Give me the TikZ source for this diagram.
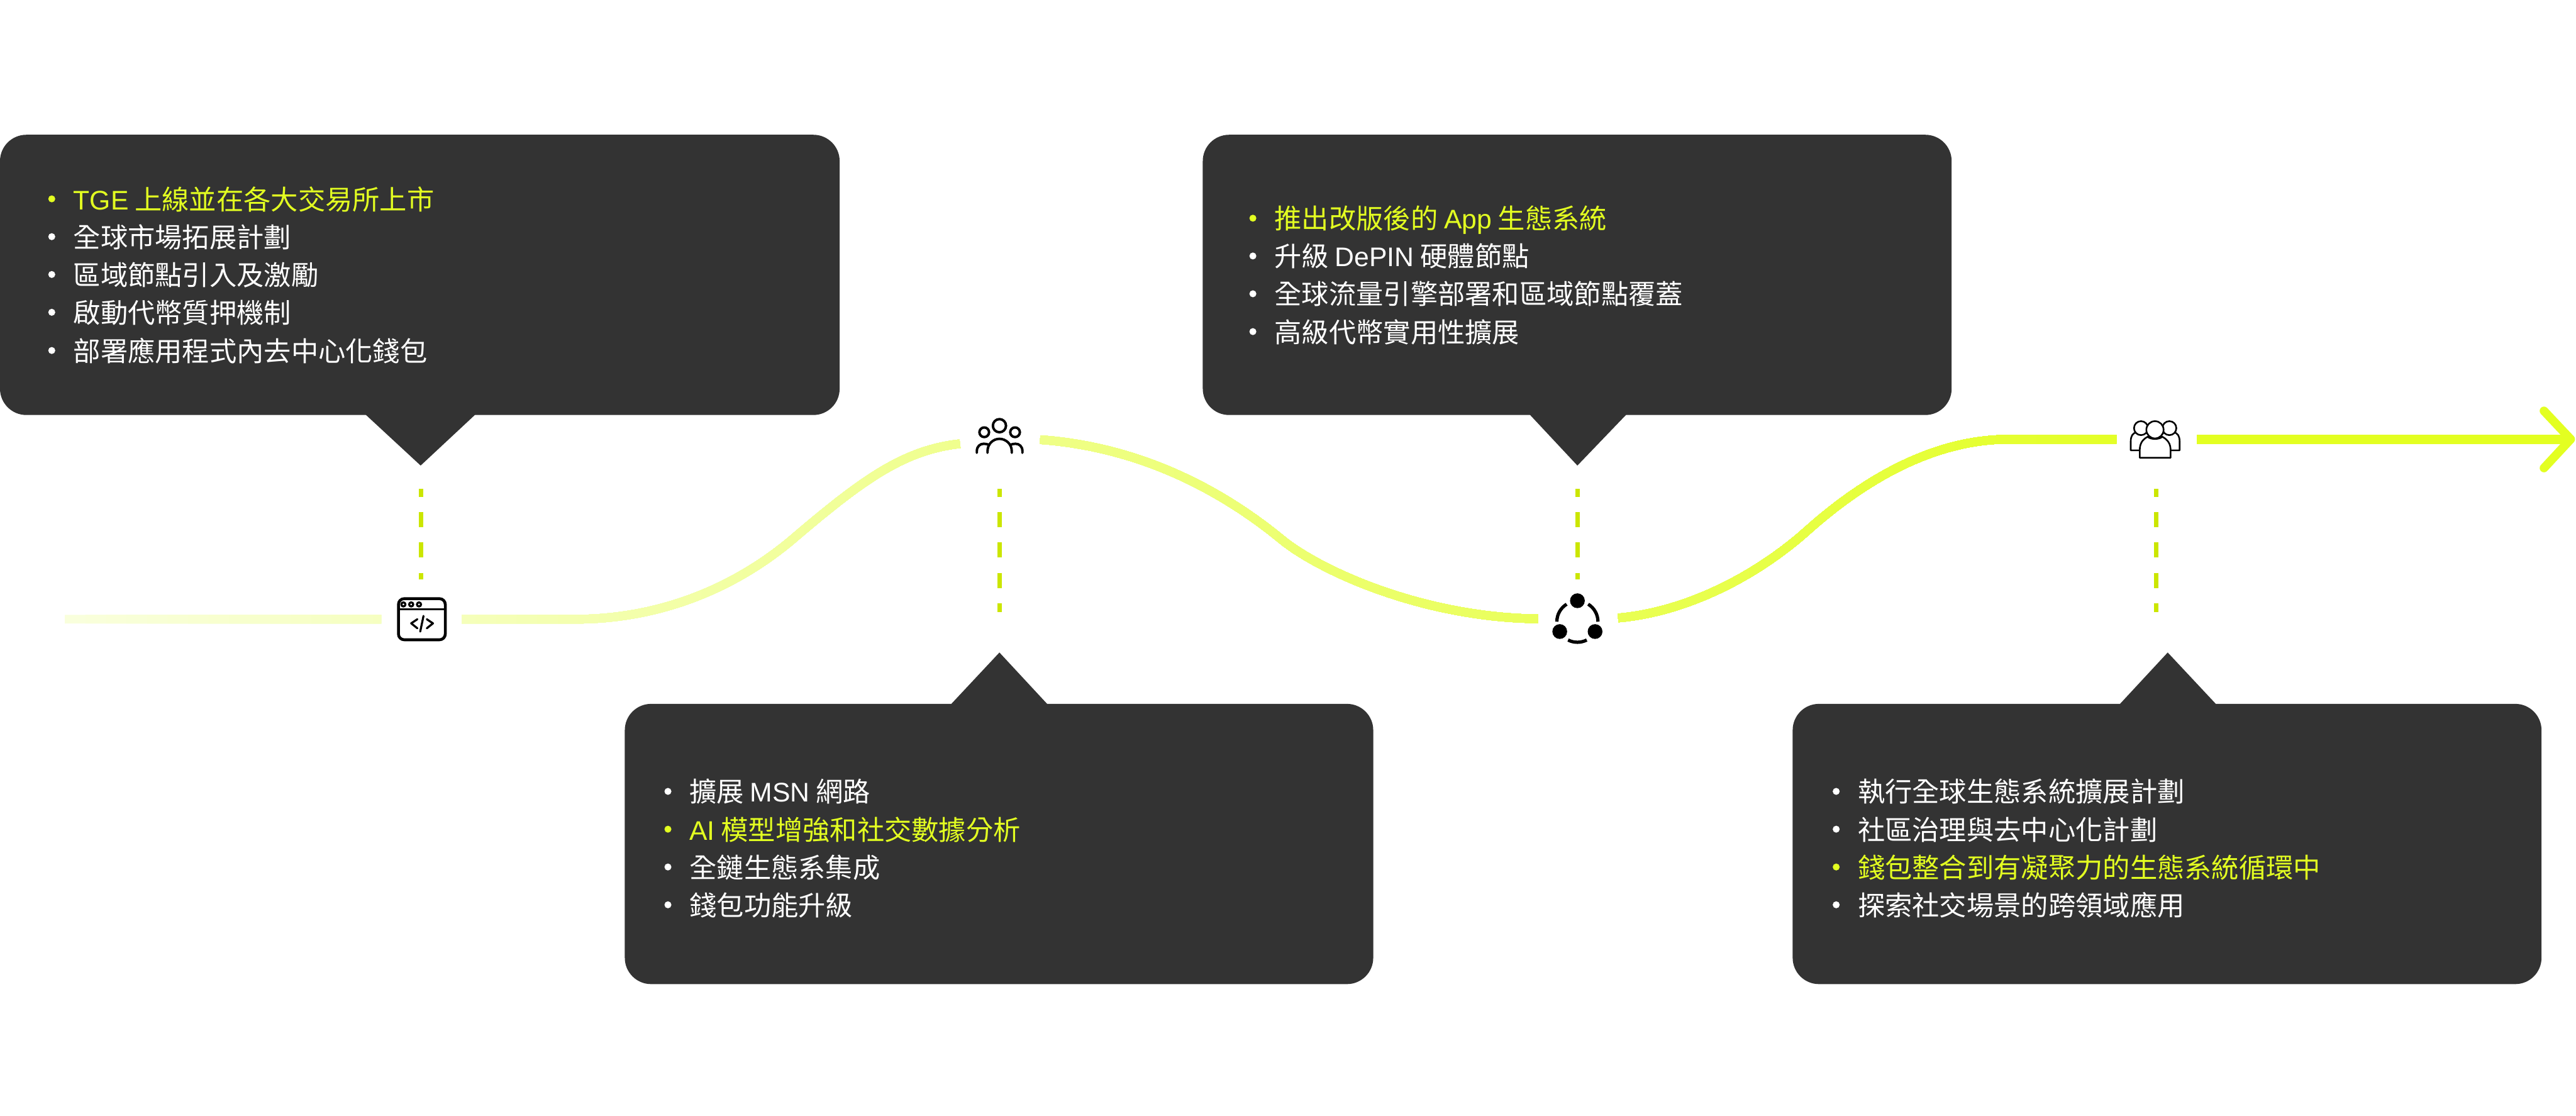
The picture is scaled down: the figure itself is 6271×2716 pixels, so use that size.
\documentclass[tikz,border=0pt]{standalone}
\usepackage{fontspec}
\setmainfont{Liberation Sans}
\newfontfamily\cjkf{Noto Sans CJK TC}
\definecolor{boxc}{HTML}{333333}
\definecolor{hi}{HTML}{E3FF21}
\definecolor{pale}{HTML}{F9FFDC}
\definecolor{dashc}{HTML}{CBE600}
\newcommand{\lattxt}[1]{{\fontspec{Liberation Sans}\fontsize{18.6}{22}\selectfont #1}}
\newcommand{\tlline}[5]{%
  \node[bul,fill=#4] (b#1) at (#2-52,#3) {};
  \node[linetxt,text=#4] (t#1) at (#2,#3+26) {#5};}
\tikzset{
  bul/.style={circle,inner sep=0,minimum size=0.17cm,draw=none},
  linetxt/.style={anchor=base west,inner sep=0,font=\fontsize{18.85}{22}\selectfont\cjkf},
  road/.style={line width=0.21cm,line cap=butt},
  dsh/.style={draw=dashc,line width=0.11cm,dash pattern=on 0.37cm off 0.37cm,dash phase=0.18cm},
  ico/.style={line width=0.07cm,draw=black,line cap=round,line join=round},
  ico4/.style={line width=0.04cm,draw=black,line join=round,fill=white},
}
\def\roadpath{
  (r1a) -- (r1b)
  (r1c) -- (1399,1507) .. controls (1620,1507) and (1800,1422) .. (1930,1312)
        .. controls (2100,1167) and (2200,1095) .. (r2a)
  (r2b) .. controls (2700,1082) and (2910,1141) .. (3120,1313)
        .. controls (3210,1387) and (3460,1503) .. (r3a)
  (r3b) .. controls (4100,1490) and (4270,1407) .. (4400,1291)
        .. controls (4530,1175) and (4700,1069) .. (4891,1069) -- (r4a)
  (r4b) -- (tip)
}
\begin{document}
\begin{tikzpicture}[x=0.01cm,y=-0.01cm]
\useasboundingbox (0,0) rectangle (6271,2716);
\fill[white] (0,0) rectangle (6271,2716);
% road coordinates
\coordinate (r1a) at (158,1507);
\coordinate (r1b) at (928,1507);
\coordinate (r1c) at (1124,1507);
\coordinate (r2a) at (2337,1080);
\coordinate (r2b) at (2532,1070);
\coordinate (r3a) at (3744,1506);
\coordinate (r3b) at (3939,1504);
\coordinate (r4a) at (5152,1069);
\coordinate (r4b) at (5348,1069);
\coordinate (tip) at (6258,1069);
\coordinate (armt) at (6193,1000);
\coordinate (armb) at (6193,1139);
% gradient road
\foreach \i in {0,...,103}{
  \pgfmathsetmacro{\xs}{158+50*\i}
  \pgfmathsetmacro{\pct}{min(100,\i/103*100)}
  \begin{scope}
    \clip (\xs,0) rectangle (6271,2716);
    \draw[road,draw=hi!\pct!pale] \roadpath;
  \end{scope}
}
\draw[road,draw=hi,line cap=round,line join=round] (armt) -- (tip) -- (armb);
% dashed leaders
\coordinate (d1a) at (1025.4,1190); \coordinate (d1b) at (1025.4,1410);
\coordinate (d2a) at (2433,1190); \coordinate (d2b) at (2433,1489);
\coordinate (d3a) at (3841,1190); \coordinate (d3b) at (3841,1410);
\coordinate (d4a) at (5249,1190); \coordinate (d4b) at (5249,1489);
\draw[dsh] (d1a) -- (d1b);
\draw[dsh] (d2a) -- (d2b);
\draw[dsh] (d3a) -- (d3b);
\draw[dsh] (d4a) -- (d4b);
% panels
\fill[boxc,rounded corners=0.64cm] (0,328) rectangle (2044,1010);
\fill[boxc] (890,1009) -- (1024,1133) -- (1157,1009) -- cycle;
\fill[boxc,rounded corners=0.64cm] (1521,1713) rectangle (3343,2395);
\fill[boxc] (2315,1714) -- (2433,1588) -- (2550,1714) -- cycle;
\fill[boxc,rounded corners=0.64cm] (2928,328) rectangle (4751,1010);
\fill[boxc] (3724,1009) -- (3840,1133) -- (3959,1009) -- cycle;
\fill[boxc,rounded corners=0.64cm] (4364,1713) rectangle (6187,2395);
\fill[boxc] (5160,1714) -- (5277,1588) -- (5395,1714) -- cycle;
% texts panel 1
\tlline{a1}{178}{484}{hi}{\lattxt{TGE} 上線並在各大交易所上市}
\tlline{a2}{178}{576}{white}{全球市場拓展計劃}
\tlline{a3}{178}{668}{white}{區域節點引入及激勵}
\tlline{a4}{178}{760}{white}{啟動代幣質押機制}
\tlline{a5}{178}{853}{white}{部署應用程式內去中心化錢包}
% panel 2
\tlline{b1}{1678}{1926}{white}{擴展 \lattxt{MSN} 網路}
\tlline{b2}{1678}{2018}{hi}{\lattxt{AI} 模型增強和社交數據分析}
\tlline{b3}{1678}{2110}{white}{全鏈生態系集成}
\tlline{b4}{1678}{2202}{white}{錢包功能升級}
% panel 3
\tlline{c1}{3102}{531}{hi}{推出改版後的 \lattxt{App} 生態系統}
\tlline{c2}{3102}{623}{white}{升級 \lattxt{DePIN} 硬體節點}
\tlline{c3}{3102}{715}{white}{全球流量引擎部署和區域節點覆蓋}
\tlline{c4}{3102}{807}{white}{高級代幣實用性擴展}
% panel 4
\tlline{e1}{4522}{1926}{white}{執行全球生態系統擴展計劃}
\tlline{e2}{4522}{2018}{white}{社區治理與去中心化計劃}
\tlline{e3}{4522}{2110}{hi}{錢包整合到有凝聚力的生態系統循環中}
\tlline{e4}{4522}{2202}{white}{探索社交場景的跨領域應用}
% icon 1
\draw[ico,rounded corners=0.14cm] (970,1457) rectangle (1084,1557);
\draw[ico,line width=0.05cm] (970,1483) -- (1084,1483);
\foreach \x in {982,1001,1020} \draw[ico,line width=0.05cm] (\x,1471) circle (5);
\draw[ico,line width=0.05cm] (1016,1507) -- (1001,1517) -- (1016,1529);
\draw[ico,line width=0.05cm] (1039,1507) -- (1054,1517) -- (1039,1529);
\draw[ico,line width=0.05cm] (1031,1499) -- (1023,1537);
% icon 2
\draw[ico,line width=0.06cm] (2433,1036) circle (16);
\draw[ico,line width=0.06cm] (2396,1052) circle (11.7);
\draw[ico,line width=0.06cm] (2471,1052) circle (11.7);
\draw[ico,line width=0.06cm] (2404,1102) -- (2404,1098) .. controls (2404,1080) and (2418,1068) .. (2433,1068) .. controls (2448,1068) and (2463,1080) .. (2463,1098) -- (2463,1102);
\draw[ico,line width=0.06cm] (2378,1102) -- (2378,1098) .. controls (2378,1086) and (2386,1080) .. (2395,1080) .. controls (2400,1080) and (2404,1081) .. (2408,1083);
\draw[ico,line width=0.06cm] (2489,1102) -- (2489,1098) .. controls (2489,1086) and (2481,1080) .. (2472,1080) .. controls (2467,1080) and (2463,1081) .. (2459,1083);
% icon 3
\fill (3840,1462) circle (18);
\fill (3797,1537) circle (18);
\fill (3883,1537) circle (18);
\draw[line width=0.08cm] (3790,1513) arc[start angle=180,end angle=238.4,radius=50];
\draw[line width=0.08cm] (3890,1513) arc[start angle=0,end angle=-58.4,radius=50];
\draw[line width=0.08cm] (3817.3,1557.6) arc[start angle=117,end angle=63,radius=50];
% icon 4
\draw[ico4] (5187,1096) -- (5187,1075) .. controls (5187,1060) and (5192,1055) .. (5200,1052) .. controls (5205,1060) and (5218,1060) .. (5224,1052) .. controls (5232,1055) and (5240,1075) .. (5240,1096) -- cycle;
\draw[ico4] (5306,1096) -- (5306,1075) .. controls (5306,1060) and (5301,1055) .. (5293,1052) .. controls (5288,1060) and (5275,1060) .. (5269,1052) .. controls (5261,1055) and (5253,1075) .. (5253,1096) -- cycle;
\draw[ico4] (5212,1042) circle (17);
\draw[ico4] (5281,1042) circle (17);
\draw[ico4] (5209,1114) -- (5209,1095) .. controls (5209,1080) and (5215,1070) .. (5228,1063) .. controls (5236,1070) and (5256,1070) .. (5264,1063) .. controls (5277,1070) and (5284,1080) .. (5284,1095) -- (5284,1114) -- cycle;
\draw[ico4] (5246,1046) circle (21);
\end{tikzpicture}
\end{document}
